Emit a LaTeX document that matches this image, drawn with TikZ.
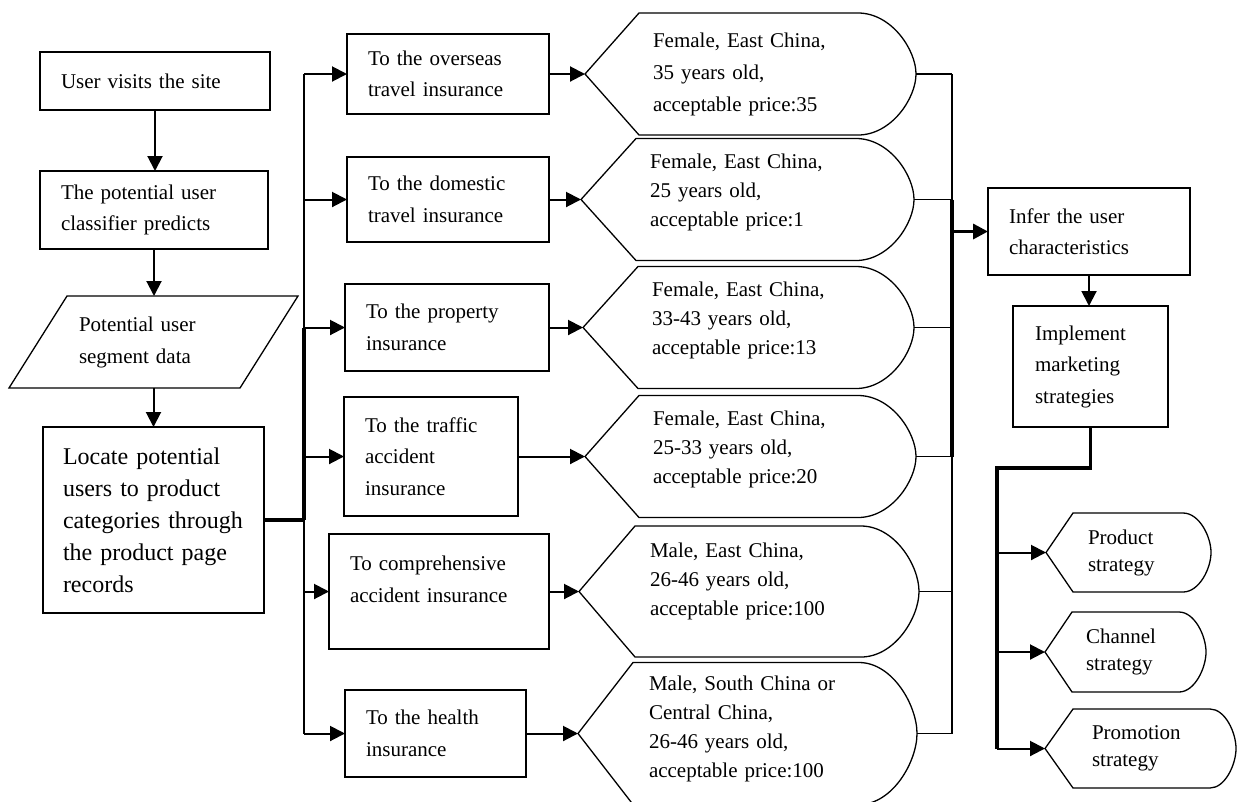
\documentclass[tikz,border=0pt]{standalone}
\usepackage{fontspec}
\setmainfont{Liberation Serif}
\usetikzlibrary{arrows.meta,calc}
\newcommand\liftup[1]{\par\vspace{#1}\nointerlineskip\null}
\newcommand\drawdisplay[4]{%
  \draw[shapeline] (#1.west) -- ([xshift=#2pt]#1.north west) -- ([xshift=-#3pt]#1.north east)
    .. controls ([xshift=-0.42*#3pt]#1.north east) and ([yshift=#4pt]#1.east) .. (#1.east)
    .. controls ([yshift=-#4pt]#1.east) and ([xshift=-0.42*#3pt]#1.south east) .. ([xshift=-#3pt]#1.south east)
    -- ([xshift=#2pt]#1.south west) -- cycle;}
\begin{document}
\begin{tikzpicture}[x=1pt,y=-1pt,
  box/.style={draw,line width=1.3pt,rectangle,inner xsep=21pt,inner ysep=0pt,align=left,
    font=\fontsize{21}{31.5}\selectfont,outer sep=0pt},
  disp/.style={rectangle,inner ysep=0pt,align=left,font=\fontsize{21}{29}\selectfont,outer sep=0pt},
  shapeline/.style={line width=1.3pt},
  wire/.style={line width=2pt},
  wirethin/.style={line width=1.6pt},
  wireheavy/.style={line width=3.3pt},
  conn/.style={line width=2pt,-{Triangle[length=15pt,width=15pt]}}]
\useasboundingbox (0,0) rectangle (1238,801);

% left column
\node[box,text width=188pt,minimum height=58pt] (b1) at (155,81) {User visits the site};
\node[box,text width=186pt,minimum height=78pt] (b2) at (154,210) {The potential user\\classifier predicts};
\node[disp,font=\fontsize{21}{32}\selectfont,inner xsep=41pt,text width=149pt,minimum height=92pt] (seg) at (153.5,342) {Potential user\\segment data};
\draw[shapeline] ([xshift=29pt]seg.north west) -- ([xshift=29pt]seg.north east) -- ([xshift=-29pt]seg.south east) -- ([xshift=-29pt]seg.south west) -- cycle;
\node[box,font=\fontsize{24}{32}\selectfont,inner xsep=20pt,text width=181pt,minimum height=186pt] (b4) at (153.5,520) {Locate potential\\users to product\\categories through\\the product page\\records};

\draw[conn] (b1.south) -- (b1.south |- b2.north);
\draw[conn] (b2.south) -- (b2.south |- seg.north);
\draw[conn] (seg.south) -- (seg.south |- b4.north);

% product boxes
\node[box,text width=160pt,minimum height=80pt] (ov) at (448,74) {To the overseas\\travel insurance};
\node[box,text width=160pt,minimum height=85pt] (dom) at (448,199.5) {To the domestic\\travel insurance};
\node[box,text width=162pt,minimum height=87pt] (prop) at (447,327.5) {To the property\\insurance};
\node[box,text width=132pt,minimum height=119pt] (traf) at (431,456.5) {To the traffic\\accident\\insurance};
\node[box,text width=178pt,minimum height=115pt] (comp) at (439,591.5) {To comprehensive\\accident insurance\liftup{24pt}};
\node[box,text width=139pt,minimum height=87pt] (heal) at (435.5,733.5) {To the health\\insurance};

% left bus
\coordinate (lbx) at (304,0);
\draw[wire] (ov.west -| lbx) -- (heal.west -| lbx);
\draw[wireheavy] (prop.west -| lbx) -- (b4.east -| lbx);
\draw[wireheavy] (b4.east) -- (b4.east -| lbx);
\foreach \n in {ov,dom,prop,traf,comp,heal}
  \draw[conn] (\n.west -| lbx) -- (\n.west);

% display shapes
\node[disp,font=\fontsize{21}{32}\selectfont,inner xsep=68pt,text width=195pt,minimum height=122pt] (d1) at (750.5,74) {Female, East China,\\35 years old,\\acceptable price:35};
\node[disp,inner xsep=69pt,text width=195pt,minimum height=122pt] (d2) at (747.5,199.5) {Female, East China,\\25 years old,\\acceptable price:1\liftup{14pt}};
\node[disp,inner xsep=69pt,text width=193pt,minimum height=122pt] (d3) at (748.5,327.5) {Female, East China,\\33-43 years old,\\acceptable price:13\liftup{14pt}};
\node[disp,inner xsep=68pt,text width=195pt,minimum height=122pt] (d4) at (750.5,456.5) {Female, East China,\\25-33 years old,\\acceptable price:20\liftup{14pt}};
\node[disp,inner xsep=71pt,text width=198pt,minimum height=131pt] (d5) at (749,591.5) {Male, East China,\\26-46 years old,\\acceptable price:100\liftup{21pt}};
\node[disp,inner xsep=71pt,text width=197pt,minimum height=142pt] (d6) at (747.5,733.5) {Male, South China or\\Central China,\\26-46 years old,\\acceptable price:100\liftup{10pt}};
\drawdisplay{d1}{54}{58}{24}
\drawdisplay{d2}{55}{58}{24}
\drawdisplay{d3}{55}{58}{24}
\drawdisplay{d4}{54}{58}{24}
\drawdisplay{d5}{56}{58}{26}
\drawdisplay{d6}{55}{58}{28}

\draw[conn] (ov.east) -- (d1.west);
\draw[conn] (dom.east) -- (d2.west);
\draw[conn] (prop.east) -- (d3.west);
\draw[conn] (traf.east) -- (d4.west);
\draw[conn] (comp.east) -- (d5.west);
\draw[conn] (heal.east) -- (d6.west);

% right bus
\coordinate (rbx) at (952,0);
\foreach \n in {d1,d2,d3,d4,d5,d6}
  \draw[wirethin] (\n.east) -- (\n.east -| rbx);
\draw[wire] (d1.east -| rbx) -- (d6.east -| rbx);
\draw[wireheavy] (d2.east -| rbx) -- (d4.east -| rbx);

% right column
\node[box,text width=160pt,minimum height=87pt] (inf) at (1089,231.5) {Infer the user\\characteristics};
\node[box,text width=111pt,inner xsep=22pt,minimum height=121pt] (impl) at (1090.5,366.5) {Implement\\marketing\\strategies};
\draw[wireheavy,-{Triangle[length=15pt,width=15pt]}] (inf.west -| rbx) -- (inf.west);
\draw[conn] (inf.south) -- (inf.south |- impl.north);

\node[disp,font=\fontsize{21}{27}\selectfont,inner xsep=42pt,text width=81pt,minimum height=79pt] (sprod) at (1128.5,552.5) {Product\\strategy};
\node[disp,font=\fontsize{21}{27}\selectfont,inner xsep=41pt,text width=79pt,minimum height=80pt] (schan) at (1125.5,652) {Channel\\strategy};
\node[disp,font=\fontsize{21}{27}\selectfont,inner xsep=47pt,text width=97pt,minimum height=79pt] (sprom) at (1140.5,748.5) {Promotion\\strategy};
\drawdisplay{sprod}{27}{28}{16}
\drawdisplay{schan}{27}{27}{16}
\drawdisplay{sprom}{28}{26}{16}

\coordinate (sb) at (997,468);
\draw[wireheavy] (impl.south) |- (sb) -- (sb |- sprom.west);
\foreach \n in {sprod,schan,sprom}
  \draw[conn] (sb |- \n.west) -- (\n.west);
\end{tikzpicture}
\end{document}
